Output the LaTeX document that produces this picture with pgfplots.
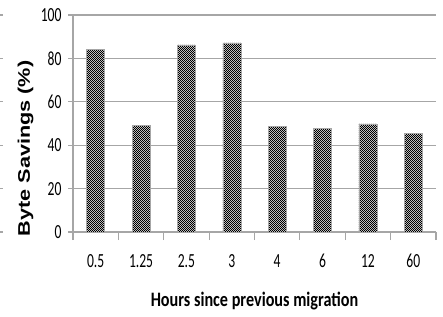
\documentclass[border=0pt]{standalone}
\usepackage{pgfplots}
\pgfplotsset{compat=1.18}
\usepackage{fontspec}
\setmainfont{Carlito}
\newfontfamily\tickfont[FakeStretch=0.68]{Carlito}
\newfontfamily\xlabfont[FakeStretch=0.79]{Carlito}
\newfontfamily\ylabfont[FakeStretch=1.29]{Liberation Sans}
\usetikzlibrary{patterns.meta}
\tikzdeclarepattern{
  name=finecheck,
  type=uncolored,
  bottom left={(0bp,0bp)},
  top right={(2.4bp,2.4bp)},
  tile size={(2.4bp,2.4bp)},
  code={
    \fill (0bp,0bp) rectangle (1.2bp,1.2bp);
    \fill (1.2bp,1.2bp) rectangle (2.4bp,2.4bp);
  }
}
\definecolor{axgray}{HTML}{A6A6A6}
\begin{document}
\begin{tikzpicture}
\begin{axis}[name=ax, scale only axis, width=363bp, height=217bp,
  xmin=-0.5, xmax=7.5, ymin=0, ymax=100,
  axis lines*=left,
  axis line style={axgray, line width=1.2bp},
  ytick={0,20,...,100},
  ymajorgrids, grid style={axgray, line width=1.2bp},
  xtick={0,...,7},
  xticklabels={0.5,1.25,2.5,3,4,6,12,60},
  minor xtick={-0.5,0.5,...,7.5},
  tick align=outside,
  major tick length=5bp,
  minor tick length=8bp,
  major x tick style={draw=none},
  minor x tick style={axgray, line width=1.2bp},
  major y tick style={axgray, line width=1.2bp},
  /pgf/number format/assume math mode=true,
  yticklabel style={font={\tickfont\fontsize{20bp}{22bp}\selectfont}, text=black, anchor=east, xshift=-3bp},
  xticklabel style={font={\tickfont\fontsize{20bp}{22bp}\selectfont}, text=black, anchor=base, yshift=-30bp},
  ybar, bar width=18bp,
]
\addplot[draw=gray!70, line width=0.4bp, fill=black!15,
  postaction={pattern=finecheck, pattern color=black}] coordinates {
  (0,84.2) (1,49.3) (2,86.2) (3,87.1) (4,48.8) (5,47.9) (6,49.8) (7,45.6)
};
\end{axis}
\node[anchor=base, font={\xlabfont\bfseries\fontsize{20.5bp}{23bp}\selectfont}] at ([yshift=-74bp]ax.south) {Hours since previous migration};
\node[rotate=90, anchor=base, font={\ylabfont\bfseries\fontsize{16.8bp}{19bp}\selectfont}] at ([shift={(-43bp,-25bp)}]ax.west) {Byte Savings (\%)};
\foreach \k in {0,...,5} {
  \draw[axgray, line width=1.2bp] ([shift={(-73bp,\k*43.4bp)}]ax.south west) -- ++(3.5bp,0);
}
\pgfresetboundingbox
\path[use as bounding box] ([shift={(-73bp,-84bp)}]ax.south west) rectangle ([shift={(7bp,15bp)}]ax.north east);
\end{tikzpicture}
\end{document}
